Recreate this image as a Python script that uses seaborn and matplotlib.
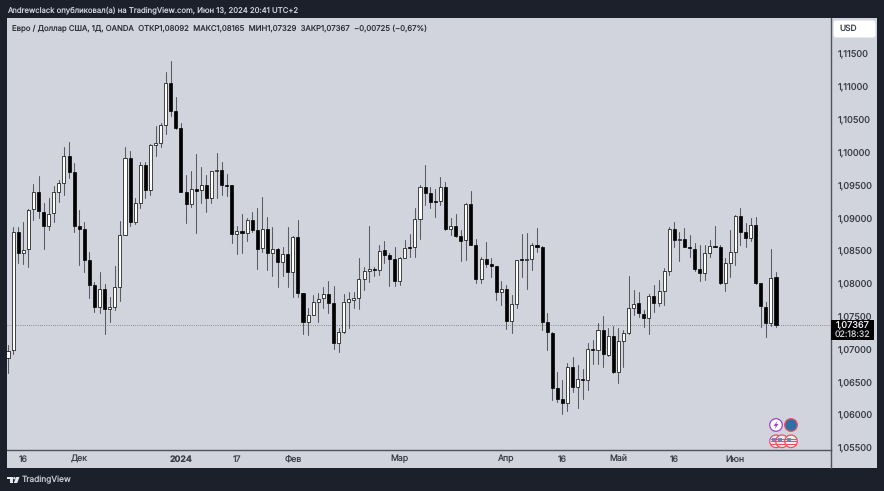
import numpy as np
import pandas as pd
import matplotlib
matplotlib.use('Agg')
import matplotlib.pyplot as plt
from matplotlib.patches import Rectangle, FancyBboxPatch, Circle, Polygon
import seaborn as sns

# EUR/USD daily candles
opens = [1.06858, 1.06981, 1.08774, 1.08464, 1.08515, 1.09125, 1.09384, 1.09089, 1.08876, 1.09064,
         1.09389, 1.09531, 1.09943, 1.09694, 1.08871, 1.08820, 1.08347, 1.07971, 1.07631, 1.07916,
         1.07601, 1.07631, 1.07936, 1.08734, 1.09907, 1.08937, 1.09226, 1.09796, 1.09425, 1.10111,
         1.10141, 1.10415, 1.11051, 1.10619, 1.10360, 1.09389, 1.09211, 1.09435, 1.09414, 1.09491,
         1.09303, 1.09714, 1.09719, 1.09496, 1.09491, 1.08744, 1.08800, 1.08759, 1.08962, 1.08810,
         1.08530, 1.08830, 1.08464, 1.08525, 1.08322, 1.08439, 1.08164, 1.08703, 1.07854, 1.07407,
         1.07519, 1.07717, 1.07773, 1.07834, 1.07697, 1.07082, 1.07260, 1.07707, 1.07748, 1.07778,
         1.08063, 1.08185, 1.08215, 1.08195, 1.08500, 1.08434, 1.08373, 1.08037, 1.08383, 1.08550,
         1.08556, 1.08977, 1.09470, 1.09374, 1.09252, 1.09257, 1.09470, 1.08820, 1.08871, 1.08713,
         1.08652, 1.09211, 1.08586, 1.08063, 1.08362, 1.08296, 1.08261, 1.07864, 1.07915, 1.07417,
         1.07676, 1.08362, 1.08357, 1.08368, 1.08576, 1.08556, 1.07407, 1.07244, 1.06396, 1.06228,
         1.06167, 1.06716, 1.06421, 1.06543, 1.06523, 1.07000, 1.06980, 1.07285, 1.06909, 1.07188,
         1.06640, 1.07122, 1.07234, 1.07615, 1.07691, 1.07534, 1.07473, 1.07803, 1.07691, 1.07885,
         1.08184, 1.08825, 1.08657, 1.08677, 1.08550, 1.08525, 1.08210, 1.08149, 1.08454, 1.08565,
         1.08550, 1.07996, 1.08311, 1.08469, 1.09028, 1.08779, 1.08682, 1.08880, 1.08001, 1.07641,
         1.07387, 1.08092]
highs = [1.07056, 1.08861, 1.08850, 1.08937, 1.09125, 1.09511, 1.09633, 1.09216, 1.09293, 1.09481,
         1.09572, 1.10070, 1.10156, 1.09826, 1.09115, 1.08937, 1.08480, 1.08022, 1.08165, 1.07987,
         1.07783, 1.08266, 1.08952, 1.10080, 1.10019, 1.09293, 1.09851, 1.09851, 1.10121, 1.10395,
         1.10436, 1.11213, 1.11386, 1.10832, 1.10436, 1.09648, 1.09714, 1.09968, 1.09775, 1.09648,
         1.09714, 1.09978, 1.09851, 1.09658, 1.09496, 1.08871, 1.09054, 1.08988, 1.09079, 1.09140,
         1.09308, 1.09003, 1.08850, 1.08530, 1.08556, 1.08860, 1.08718, 1.08962, 1.07854, 1.07616,
         1.07819, 1.07844, 1.07936, 1.08037, 1.07956, 1.07321, 1.07829, 1.07859, 1.07870, 1.08378,
         1.08251, 1.08871, 1.08251, 1.08581, 1.08647, 1.08464, 1.08545, 1.08403, 1.08657, 1.08744,
         1.09140, 1.09495, 1.09800, 1.09460, 1.09429, 1.09623, 1.09536, 1.08987, 1.09053, 1.08810,
         1.09226, 1.09409, 1.08667, 1.08393, 1.08632, 1.08378, 1.08266, 1.08037, 1.07971, 1.07819,
         1.08352, 1.08749, 1.08759, 1.08606, 1.08835, 1.08566, 1.07549, 1.07260, 1.06650, 1.06523,
         1.06777, 1.06878, 1.06751, 1.06685, 1.07092, 1.07133, 1.07387, 1.07503, 1.07321, 1.07346,
         1.07310, 1.07285, 1.08113, 1.07895, 1.07859, 1.07590, 1.07834, 1.07971, 1.08047, 1.08235,
         1.08850, 1.08936, 1.08784, 1.08835, 1.08733, 1.08616, 1.08581, 1.08581, 1.08657, 1.08875,
         1.08581, 1.08377, 1.08809, 1.09038, 1.09140, 1.08911, 1.08987, 1.09002, 1.08006, 1.07717,
         1.08515, 1.08165]
lows = [1.06630, 1.06920, 1.08312, 1.08292, 1.08241, 1.08962, 1.08998, 1.08515, 1.08810, 1.08937,
        1.09242, 1.09343, 1.09597, 1.08784, 1.08276, 1.08175, 1.07768, 1.07565, 1.07540, 1.07225,
        1.07402, 1.07590, 1.07728, 1.08734, 1.08871, 1.08901, 1.09140, 1.09293, 1.09343, 1.09938,
        1.10070, 1.10273, 1.10548, 1.10344, 1.09389, 1.08922, 1.09155, 1.08759, 1.09216, 1.09089,
        1.09226, 1.09293, 1.09343, 1.09328, 1.08617, 1.08439, 1.08454, 1.08647, 1.08784, 1.08210,
        1.08480, 1.08200, 1.08113, 1.07946, 1.08108, 1.07936, 1.07793, 1.07793, 1.07224, 1.07214,
        1.07514, 1.07407, 1.07616, 1.07549, 1.06996, 1.06945, 1.07245, 1.07311, 1.07616, 1.07605,
        1.07895, 1.08022, 1.08108, 1.08124, 1.08312, 1.07961, 1.07956, 1.07976, 1.08378, 1.08403,
        1.08403, 1.08667, 1.09191, 1.09140, 1.09013, 1.09191, 1.08810, 1.08733, 1.08708, 1.08342,
        1.08352, 1.08581, 1.08007, 1.08007, 1.08251, 1.08098, 1.07743, 1.07666, 1.07301, 1.07234,
        1.07616, 1.08098, 1.07905, 1.08200, 1.08479, 1.07285, 1.06980, 1.06218, 1.06193, 1.06005,
        1.06050, 1.06345, 1.06091, 1.06228, 1.06370, 1.06767, 1.06767, 1.06726, 1.06894, 1.06635,
        1.06482, 1.06726, 1.07224, 1.07514, 1.07478, 1.07336, 1.07224, 1.07564, 1.07656, 1.07666,
        1.08123, 1.08555, 1.08342, 1.08545, 1.08403, 1.08189, 1.08037, 1.08047, 1.08403, 1.08545,
        1.07986, 1.07879, 1.08098, 1.08276, 1.08581, 1.08545, 1.08647, 1.07986, 1.07326, 1.07183,
        1.07346, 1.07329]
closes = [1.06970, 1.08774, 1.08464, 1.08510, 1.09115, 1.09384, 1.09099, 1.08876, 1.09054, 1.09384,
          1.09531, 1.09943, 1.09694, 1.08876, 1.08820, 1.08353, 1.07971, 1.07636, 1.07916, 1.07601,
          1.07631, 1.07936, 1.08734, 1.09907, 1.08937, 1.09226, 1.09796, 1.09425, 1.10111, 1.10136,
          1.10410, 1.11051, 1.10619, 1.10365, 1.09394, 1.09211, 1.09440, 1.09409, 1.09491, 1.09303,
          1.09714, 1.09729, 1.09496, 1.09486, 1.08744, 1.08800, 1.08759, 1.08962, 1.08810, 1.08520,
          1.08830, 1.08454, 1.08520, 1.08322, 1.08439, 1.08164, 1.08698, 1.07854, 1.07407, 1.07519,
          1.07717, 1.07763, 1.07834, 1.07702, 1.07082, 1.07255, 1.07707, 1.07753, 1.07778, 1.08058,
          1.08185, 1.08220, 1.08195, 1.08495, 1.08434, 1.08373, 1.08032, 1.08383, 1.08540, 1.08540,
          1.08972, 1.09470, 1.09368, 1.09236, 1.09242, 1.09470, 1.08820, 1.08865, 1.08718, 1.08647,
          1.09211, 1.08586, 1.08063, 1.08362, 1.08296, 1.08266, 1.07864, 1.07915, 1.07417, 1.07676,
          1.08347, 1.08347, 1.08368, 1.08576, 1.08556, 1.07412, 1.07250, 1.06396, 1.06228, 1.06167,
          1.06716, 1.06421, 1.06543, 1.06523, 1.07000, 1.06980, 1.07285, 1.06919, 1.07194, 1.06640,
          1.07117, 1.07234, 1.07615, 1.07686, 1.07539, 1.07468, 1.07803, 1.07691, 1.07885, 1.08184,
          1.08825, 1.08657, 1.08677, 1.08550, 1.08530, 1.08210, 1.08149, 1.08454, 1.08565, 1.08555,
          1.07996, 1.08301, 1.08469, 1.09028, 1.08784, 1.08682, 1.08885, 1.08001, 1.07646, 1.07387,
          1.08073, 1.07367]

price_ticks = [1.115, 1.11, 1.105, 1.10, 1.095, 1.09, 1.085, 1.08, 1.075, 1.07, 1.065, 1.06, 1.055]
date_pos = [3, 14, 34, 45, 56, 77, 98, 109, 120, 131, 143]
date_labels = ['16', 'Дек', '2024', '17', 'Фев', 'Мар', 'Апр', '16', 'Май', '16', 'Июн']

df = pd.DataFrame({'i': np.arange(len(opens)), 'open': opens, 'high': highs, 'low': lows, 'close': closes})
df['top'] = df[['open', 'close']].max(axis=1)
df['bot'] = df[['open', 'close']].min(axis=1)
df['up'] = df['close'] >= df['open']

# long table for the wicks, two rows per candle
wicks = df.melt(id_vars='i', value_vars=['high', 'low'], value_name='price').sort_values('i')

sns.set_style('white')
plt.rcParams['font.family'] = ['Inter', 'DejaVu Sans']
plt.rcParams['text.hinting'] = 'none'
plt.rcParams['text.hinting_factor'] = 1

W, H = 884, 491
BG = '#1c202b'
PANEL = '#d1d4dc'
LINE = '#50535e'
TXT = '#3a3d47'

fig = plt.figure(figsize=(W / 100, H / 100), dpi=100, facecolor=BG)

# pixel overlay for the frame of the widget
over = fig.add_axes([0, 0, 1, 1], zorder=0)
over.set_xlim(0, W)
over.set_ylim(H, 0)
over.axis('off')
over.add_patch(Rectangle((6.7, 17.5), 870.3, 450.3, fc=PANEL, ec='none'))

# main price pane, 6.7-830.7 px wide, 17.5-450 px high
ax = fig.add_axes([6.7 / W, 1 - 450 / H, 824 / W, 432.5 / H], zorder=1)
ax.set_facecolor(PANEL)

sns.lineplot(data=wicks, x='i', y='price', units='i', estimator=None, sort=False,
             color='#5a5c62', lw=0.75, ax=ax, legend=False, zorder=2)
ax.bar(df['i'], df['top'] - df['bot'], bottom=df['bot'], width=0.6,
       color=np.where(df['up'], '#ffffff', '#000000'), edgecolor='#000000', linewidth=0.5, zorder=3)
ax.axhline(closes[-1], color='#6f727b', lw=0.6, ls=(0, (1, 1.6)), zorder=1)

ax.set_xlim(-0.26, 161.75)
ax.set_ylim(1.05456, 1.12047)
ax.set_xlabel('')
ax.set_ylabel('')
ax.yaxis.tick_right()
ax.set_yticks(price_ticks)
ax.set_yticklabels([f'{p:.5f}'.replace('.', ',') for p in price_ticks], fontsize=6.6, color=TXT)
ax.set_xticks(date_pos)
ax.set_xticklabels(date_labels, fontsize=6.3, color=TXT, va='center')
ax.get_xticklabels()[2].set_fontweight('bold')
ax.tick_params(axis='both', length=0)
ax.tick_params(axis='y', pad=5)
ax.tick_params(axis='x', pad=6.6)
for s in ['top', 'left']:
    ax.spines[s].set_visible(False)
for s in ['bottom', 'right']:
    ax.spines[s].set_color(LINE)
    ax.spines[s].set_linewidth(1)

# frame on top of the chart
top = fig.add_axes([0, 0, 1, 1], zorder=2)
top.set_xlim(0, W)
top.set_ylim(H, 0)
top.axis('off')
top.patch.set_alpha(0)

top.plot([830.7, 830.7], [450, 467.8], color=LINE, lw=1)
top.text(7, 10, 'Andrewclack опубликовал(а) на TradingView.com, Июн 13, 2024 20:41 UTC+2',
         fontsize=5.55, color='#d1d4dc', va='center')
top.text(12, 28, 'Евро / Доллар США, 1Д, OANDA  ОТКР1,08092  МАКС1,08165  МИН1,07329  ЗАКР1,07367  −0,00725 (−0,67%)',
         fontsize=5.6, color='#2e3039', va='center')

top.add_patch(FancyBboxPatch((835, 22), 39, 14, boxstyle='round,pad=1.5,rounding_size=2.5', fc='white', ec='none'))
top.text(839, 28.7, 'USD', fontsize=6.0, color=TXT, va='center')

top.add_patch(Rectangle((831, 320), 43, 20, fc='#000000', ec='none'))
top.text(852.5, 325.3, '1,07367', fontsize=6.6, color='#f0f1f4', ha='center', va='center')
top.text(852.5, 334.5, '02:18:32', fontsize=6.3, color='#c8cad0', ha='center', va='center')

# event icons
top.add_patch(Circle((776, 425), 6.3, fc='white', ec='#a340c8', lw=0.9))
top.add_patch(Polygon([(777.5, 421), (773.5, 426), (775.7, 426), (774.7, 429), (778.5, 424), (776.3, 424)], fc='#a340c8', ec='none'))
top.add_patch(Circle((791, 425), 6.3, fc='#2f6fa8', ec='#e8525e', lw=0.9))
for cx in [776, 782, 791]:
    top.add_patch(Circle((cx, 441.3), 6.3, fc='#f4f0f2', ec='#e8525e', lw=0.9))
    for dy in [-2.4, 0, 2.4]:
        top.plot([cx - 5, cx + 5], [441.3 + dy, 441.3 + dy], color='#e8525e', lw=0.8)
    top.add_patch(Rectangle((cx - 4.5, 437.5), 4.5, 3.6, fc='#6f8fcf', ec='none'))

# TradingView logo
top.add_patch(Polygon([(7, 477), (13.2, 477), (13.2, 483), (10, 483), (10, 479.4), (7, 479.4)], fc='#e8e9ee', ec='none'))
top.add_patch(Circle((14.4, 478.2), 1.2, fc='#e8e9ee', ec='none'))
top.add_patch(Polygon([(16.2, 477), (19.5, 477), (17.2, 483), (13.8, 483)], fc='#e8e9ee', ec='none'))
top.text(22, 480.3, 'TradingView', fontsize=6.0, color='#c8cad2', va='center')

fig.savefig('out.png', dpi=100, facecolor=BG)
